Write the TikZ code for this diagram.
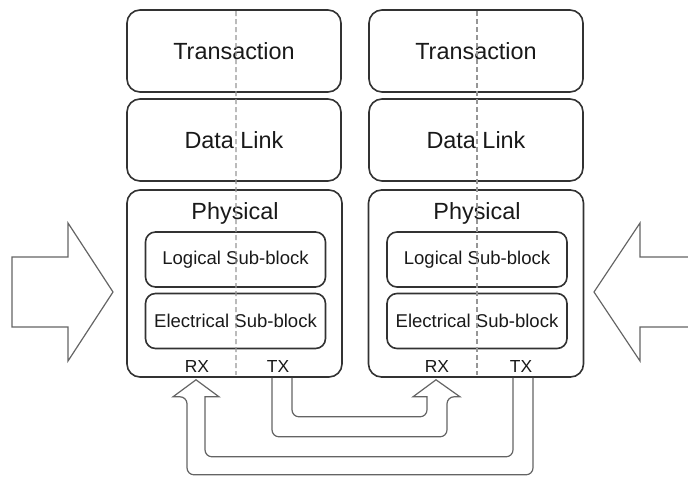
\documentclass[tikz,border=0pt]{standalone}
\usepackage{fontspec}
\setmainfont{Liberation Sans}
\usetikzlibrary{calc}
\definecolor{LayerEdge}{RGB}{50,50,50}
\definecolor{PipeEdge}{RGB}{100,100,100}
\definecolor{SplitGray}{RGB}{150,150,150}
\definecolor{InkGray}{RGB}{25,25,25}
\tikzset{
    layer/.style={draw=LayerEdge, line width=1.6bp, rounded corners=13bp, minimum width=214bp, minimum height=82bp, text=InkGray, font=\fontsize{23.5}{26}\selectfont},
    physbox/.style={draw=LayerEdge, line width=1.6bp, rounded corners=13bp, minimum width=215bp, minimum height=187bp},
    physlbl/.style={text=InkGray, font=\fontsize{23.5}{26}\selectfont},
    subblock/.style={draw=LayerEdge, line width=1.6bp, rounded corners=10bp, minimum width=180bp, minimum height=55bp, text=InkGray, font=\fontsize{18.6}{21}\selectfont},
    portlbl/.style={text=InkGray, font=\fontsize{17.5}{20}\selectfont},
    hollow/.style={draw=PipeEdge, line width=1.2bp, line join=miter},
    bigarrow/.style={draw=PipeEdge, line width=1.2bp},
    split/.style={draw=SplitGray, line width=1.2bp, dash pattern=on 5bp off 3bp},
}
\begin{document}
\begin{tikzpicture}[x=1bp,y=-1bp]
\useasboundingbox (0,0) rectangle (688,479);
% left stack
\node[layer] (tranl) at (234,51) {Transaction};
\node[layer] (dll) at (234,140) {Data Link};
\node[physbox] (phl) at (234.5,283.5) {};
\node[physlbl] (phtl) at (235,213) {Physical};
\node[subblock] (logl) at (235.5,259.5) {Logical Sub-block};
\node[subblock] (elel) at (235.5,321) {Electrical Sub-block};
\node[portlbl] (rxl) at (197,367) {RX};
\node[portlbl] (txl) at (278,367) {TX};
% right stack
\node[layer] (tranr) at (476,51) {Transaction};
\node[layer] (dlr) at (476,140) {Data Link};
\node[physbox] (phr) at (476,283.5) {};
\node[physlbl] (phtr) at (477,213) {Physical};
\node[subblock] (logr) at (477,259.5) {Logical Sub-block};
\node[subblock] (eler) at (477,321) {Electrical Sub-block};
\node[portlbl] (rxr) at (437,367) {RX};
\node[portlbl] (txr) at (521,367) {TX};

\draw[split] ($(tranl.north)+(2,2)$) -- ($(phl.south)+(1.5,-3)$);
\draw[split] ($(tranr.north)+(1,2)$) -- ($(phr.south)+(1,-3)$);

% TX of left to RX of right
\draw[hollow] (272,0 |- phl.south) [rounded corners=7bp] -- ++(0,59) -- ++(175,0) -- ++(0,-40)
    [sharp corners] -- ++(13,0) -- ++(-24,-17) -- ++(-23,17) -- ++(14,0)
    [rounded corners=7bp] -- ++(0,20) -- ++(-135,0) -- ++(0,-39);
% TX of right to RX of left
\draw[hollow] (533,0 |- phr.south) [rounded corners=7bp] -- ++(0,97) -- ++(-346,0) -- ++(0,-78)
    [sharp corners] -- ++(-14,0) -- ++(23,-17) -- ++(23,17) -- ++(-14,0)
    [rounded corners=7bp] -- ++(0,60) -- ++(308,0) -- ++(0,-79);

% side arrows
\draw[bigarrow] (12,257) -- (68,257) -- (68,223) -- (113,292) -- (68,361) -- (68,327) -- (12,327) -- cycle;
\draw[bigarrow] (690,257) -- (640,257) -- (640,223) -- (594,292) -- (640,361) -- (640,327) -- (690,327);
\end{tikzpicture}
\end{document}
